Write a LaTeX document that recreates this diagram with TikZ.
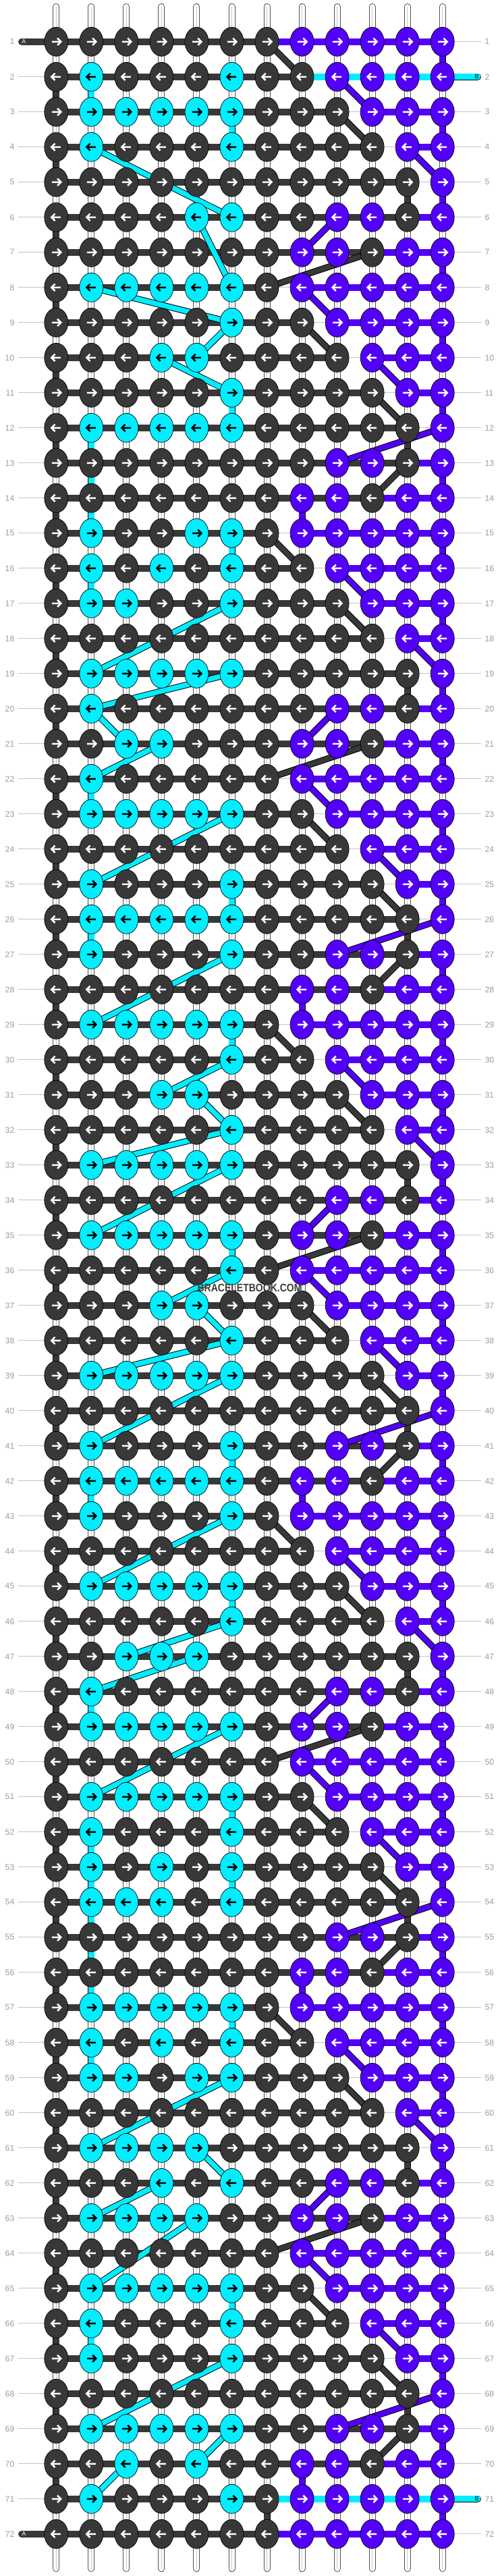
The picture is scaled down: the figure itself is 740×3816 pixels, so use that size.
\documentclass[tikz,border=0pt]{standalone}
\usepackage{fontspec}
\setmainfont{Liberation Sans}
\usepackage{graphicx}
\usetikzlibrary{shapes.geometric}
\definecolor{kD}{HTML}{383838}
\definecolor{kC}{HTML}{00EEFF}
\definecolor{kP}{HTML}{5300F8}
\colorlet{aD}{white}
\colorlet{aP}{white}
\colorlet{aC}{black}
\definecolor{guidec}{HTML}{C4C4C4}
\definecolor{numc}{HTML}{9C9C9C}
\definecolor{threadc}{HTML}{505050}
\definecolor{threadm}{HTML}{C8C8C8}
\definecolor{wmc}{HTML}{3C3C3C}
% right-side knot colours (cols 7-12) by phase (row-1) mod 7
\expandafter\def\csname RK0\endcsname{D,P,P,P,P,P}
\expandafter\def\csname RK1\endcsname{D,D,P,P,P,P}
\expandafter\def\csname RK2\endcsname{D,D,D,P,P,P}
\expandafter\def\csname RK3\endcsname{D,D,D,D,P,P}
\expandafter\def\csname RK4\endcsname{D,D,D,D,D,P}
\expandafter\def\csname RK5\endcsname{D,D,P,P,D,P}
\expandafter\def\csname RK6\endcsname{D,P,P,D,P,P}
% right-side horizontal segments (7-8 .. 11-12)
\expandafter\def\csname RH0\endcsname{N,P,P,P,P}
\expandafter\def\csname RH1\endcsname{D,N,P,P,P}
\expandafter\def\csname RH2\endcsname{D,D,N,P,P}
\expandafter\def\csname RH3\endcsname{D,D,D,N,P}
\expandafter\def\csname RH4\endcsname{D,D,D,D,N}
\expandafter\def\csname RH5\endcsname{D,D,D,D,P}
\expandafter\def\csname RH6\endcsname{D,D,D,P,P}
\def\LeftRows{1/{D,D,D,D,D,D},2/{D,C,D,D,D,C},3/{D,C,C,C,C,C},4/{D,C,D,D,D,C},5/{D,D,D,D,D,D},
6/{D,D,D,D,C,C},7/{D,D,D,D,D,D},8/{D,C,C,C,C,C},9/{D,D,D,D,D,C},10/{D,D,D,C,C,D},
11/{D,D,D,D,D,C},12/{D,C,C,C,C,C},13/{D,D,D,D,D,D},14/{D,D,D,D,D,D},15/{D,C,D,D,C,C},
16/{D,C,D,C,D,C},17/{D,C,C,D,D,C},18/{D,D,D,D,D,D},19/{D,C,C,C,C,C},20/{D,C,D,D,D,D},
21/{D,D,C,C,D,D},22/{D,C,D,D,D,D},23/{D,C,C,C,C,C},24/{D,D,D,D,D,D},25/{D,C,D,D,D,C},
26/{D,C,C,C,C,C},27/{D,C,D,D,D,C},28/{D,D,D,D,D,D},29/{D,C,C,C,C,C},30/{D,D,D,D,D,C},
31/{D,D,D,C,C,D},32/{D,D,D,D,D,C},33/{D,C,C,C,C,C},34/{D,D,D,D,D,D},35/{D,C,C,C,C,C},
36/{D,D,D,D,D,C},37/{D,D,D,C,C,D},38/{D,D,D,D,D,C},39/{D,C,C,C,C,C},40/{D,D,D,D,D,D},
41/{D,C,D,D,D,C},42/{D,C,C,C,C,C},43/{D,C,D,D,D,C},44/{D,D,D,D,D,D},45/{D,C,C,C,C,C},
46/{D,D,D,D,D,C},47/{D,D,C,C,C,D},48/{D,C,D,D,D,D},49/{D,C,C,C,C,C},50/{D,D,D,D,D,D},
51/{D,C,C,C,C,C},52/{D,C,D,D,D,C},53/{D,C,D,C,D,C},54/{D,C,C,C,D,C},55/{D,D,D,D,D,D},
56/{D,D,D,D,D,D},57/{D,C,C,C,C,C},58/{D,C,D,C,D,C},59/{D,C,C,D,C,C},60/{D,D,D,D,D,D},
61/{D,C,C,C,C,D},62/{D,D,D,C,D,C},63/{D,C,C,C,C,D},64/{D,D,D,D,D,D},65/{D,C,C,C,C,C},
66/{D,C,D,D,D,C},67/{D,C,D,D,D,C},68/{D,D,D,D,D,D},69/{D,C,C,C,C,C},70/{D,D,C,D,C,D},
71/{D,C,D,D,D,C},72/{D,D,D,D,D,D}}
\begin{document}
\begin{tikzpicture}[x=1pt,y=-1pt,
  knot/.style={ellipse, minimum width=35pt, minimum height=43pt, inner sep=0pt, draw=black, line width=0.7pt},
  arrowg/.style={line width=2.5pt, line cap=butt, line join=miter},
  hseg/.style={line width=10pt},
  vseg/.style={line width=8.5pt, preaction={draw=black, line width=10pt}},
  diag/.style={draw=#1, line width=7.5pt, preaction={draw=black, line width=9.5pt}},
  guide/.style={draw=guidec, line width=1pt},
  thread/.style={draw=white, line width=8pt, line cap=round, preaction={draw=threadc, line width=10pt, line cap=round}, postaction={draw=threadm, line width=1pt}},
  numl/.style={anchor=east, inner sep=0pt, text=numc, font=\fontsize{12.2}{14}\selectfont},
  numr/.style={anchor=west, inner sep=0pt, text=numc, font=\fontsize{12.2}{14}\selectfont},
  pilltext/.style={inner sep=0pt, font=\fontsize{9}{10}\selectfont}
]
\fill[white] (0,0) rectangle (740,3816);
\useasboundingbox (0,0) rectangle (740,3816);
% grid coordinates, guide lines, row numbers
\foreach \rw in {1,...,72} {
  \pgfmathsetmacro\yy{61.8+52*(\rw-1)}
  \foreach \cj in {1,...,12} {
    \coordinate (p-\rw-\cj) at ({83.3+52.04*(\cj-1)},\yy);
  }
  \coordinate (gl-\rw) at (27,\yy);
  \coordinate (gr-\rw) at (713,\yy);
  \draw[guide] (gl-\rw) -- (gr-\rw);
  \node[numl] (nl-\rw) at (21.5,\yy) {\rw};
  \node[numr] (nr-\rw) at (718.5,\yy) {\rw};
}
% vertical threads
\foreach \cj in {1,...,12} {
  \coordinate (tt-\cj) at ({83.3+52.04*(\cj-1)},10);
  \coordinate (tb-\cj) at ({83.3+52.04*(\cj-1)},3805);
  \draw[thread] (tt-\cj) -- (tb-\cj);
}
% solid vertical segments
\foreach \rw in {2,4,...,70} {
  \pgfmathtruncatemacro\rn{\rw+1}
  \draw[vseg, draw=kD] (p-\rw-1) -- (p-\rn-1);
}
\foreach \rw in {1,3,...,71} {
  \pgfmathtruncatemacro\rn{\rw+1}
  \draw[vseg, draw=kP] (p-\rw-12) -- (p-\rn-12);
}
\foreach \cj/\rw in {2/2,6/3,6/11,2/12,2/13,2/14,6/15,2/16,2/22,6/25,2/26,6/29,6/35,6/41,2/42,6/45,2/48,6/51,2/52,2/53,6/53,2/54,2/55,2/56,6/57,2/58,6/65,2/66} {
  \pgfmathtruncatemacro\rn{\rw+1}
  \draw[vseg, draw=kC] (p-\rw-\cj) -- (p-\rn-\cj);
}
\foreach \rw in {1,...,70} {
  \pgfmathtruncatemacro\ph{mod(\rw+8,14)}
  \pgfmathtruncatemacro\rn{\rw+1}
  \ifnum\ph=6 \draw[vseg, draw=kD] (p-\rw-11) -- (p-\rn-11);\fi
  \ifnum\ph=13 \draw[vseg, draw=kD] (p-\rw-11) -- (p-\rn-11);\fi
  \ifnum\ph=8 \draw[vseg, draw=kP] (p-\rw-8) -- (p-\rn-8);\fi
}
\draw[vseg, draw=kD] (p-71-7) -- (p-72-7);
% horizontal segments
\foreach \rw in {1,...,72} {
  \pgfmathtruncatemacro\ph{mod(\rw-1,7)}
  \edef\hl{D,D,D,D,D,D,\csname RH\ph\endcsname}
  \ifnum\rw=1 \def\hl{D,D,D,D,D,D,P,P,P,P,P}\fi
  \ifnum\rw=2 \def\hl{D,D,D,D,D,D,D,C,C,C,C}\fi
  \ifnum\rw=71 \def\hl{D,D,D,D,D,D,C,C,C,C,C}\fi
  \ifnum\rw=72 \def\hl{D,D,D,D,D,D,P,P,P,P,P}\fi
  \foreach \hc [count=\cj] in \hl {
    \if N\hc\else
      \pgfmathtruncatemacro\jn{\cj+1}
      \draw[hseg, draw=k\hc] (p-\rw-\cj) -- (p-\rw-\jn);
    \fi
  }
}
% thread ends A and B
\coordinate (aL1) at (32,61.8);
\draw[line width=10pt, draw=kD, line cap=round] (aL1) -- (p-1-1);
\coordinate (aL72) at (32,3753.8);
\draw[line width=10pt, draw=kD, line cap=round] (aL72) -- (p-72-1);
\coordinate (bR2) at (707.8,113.8);
\draw[line width=9pt, draw=kC, line cap=round, preaction={draw=black, line width=10.5pt, line cap=round}] (p-2-12) -- (bR2);
\coordinate (bR71) at (707.8,3701.8);
\draw[line width=9pt, draw=kC, line cap=round, preaction={draw=black, line width=10.5pt, line cap=round}] (p-71-12) -- (bR71);
\node[pilltext, text=white] (tA1) at (35.5,61.8) {A};
\node[pilltext, text=white] (tA72) at (35.5,3753.8) {A};
\node[pilltext, text=black] (tB2) at (706.5,113.8) {B};
\node[pilltext, text=black] (tB71) at (706.5,3701.8) {B};
% diagonals on the right side
\foreach \rw in {1,...,70} {
  \pgfmathtruncatemacro\ph{mod(\rw+8,14)}
  \pgfmathtruncatemacro\rn{\rw+1}
  \ifcase\ph
    \draw[diag=kP] (p-\rw-9) -- (p-\rn-8);
  \or
    \draw[diag=kD] (p-\rw-10) -- (p-\rn-7);
  \or
    \draw[diag=kP] (p-\rw-8) -- (p-\rn-9);
  \or
    \draw[diag=kD] (p-\rw-8) -- (p-\rn-9);
  \or
    \draw[diag=kP] (p-\rw-10) -- (p-\rn-11);
  \or
    \draw[diag=kD] (p-\rw-10) -- (p-\rn-11);
  \or
    \draw[diag=kP] (p-\rw-12) -- (p-\rn-9);
  \or
    \draw[diag=kD] (p-\rw-11) -- (p-\rn-10);
  \or
  \or
    \draw[diag=kD] (p-\rw-7) -- (p-\rn-8);
  \or
    \draw[diag=kP] (p-\rw-9) -- (p-\rn-10);
  \or
    \draw[diag=kD] (p-\rw-9) -- (p-\rn-10);
  \or
    \draw[diag=kP] (p-\rw-11) -- (p-\rn-12);
  \or
  \fi
}
% cyan diagonals
\foreach \ca/\ra/\cb/\rb in {2/4/6/6,5/6/6/8,2/8/6/9,6/9/5/10,4/10/6/11,6/17/2/19,6/19/2/20,2/20/3/21,4/21/2/22,6/23/2/25,6/27/2/29,6/30/4/31,5/31/6/32,6/32/2/33,6/33/2/35,6/36/4/37,5/37/6/38,6/38/2/39,6/39/2/41,6/43/2/45,6/46/3/47,5/47/2/48,6/49/2/51,6/59/2/61,5/61/6/62,4/62/2/63,5/63/2/65,6/67/2/69,6/69/5/70,3/70/2/71} {
  \draw[diag=kC] (p-\ra-\ca) -- (p-\rb-\cb);
}
% knots
\foreach \rw/\lst in \LeftRows {
  \pgfmathtruncatemacro\ph{mod(\rw-1,7)}
  \ifnum\rw=72 \def\pk{0}\else\let\pk\ph\fi
  \pgfmathtruncatemacro\sg{ifthenelse(mod(\rw,2)==1,1,-1)}
  \edef\full{\lst,\csname RK\pk\endcsname}
  \foreach \kc [count=\cj] in \full {
    \node[knot, fill=k\kc] (k-\rw-\cj) at (p-\rw-\cj) {};
    \begin{scope}[shift={(p-\rw-\cj)}, xscale=\sg]
      \draw[arrowg, draw=a\kc] (-6.5,0) -- (7,0) (1.8,-5.2) -- (7,0) -- (1.8,5.2);
    \end{scope}
  }
}
% watermark
\node[inner sep=0pt, text=wmc, font=\bfseries\fontsize{16.3}{18}\selectfont] (wm) at (370,1908) {\scalebox{0.86}[1]{BRACELETBOOK.COM}};
\end{tikzpicture}
\end{document}
